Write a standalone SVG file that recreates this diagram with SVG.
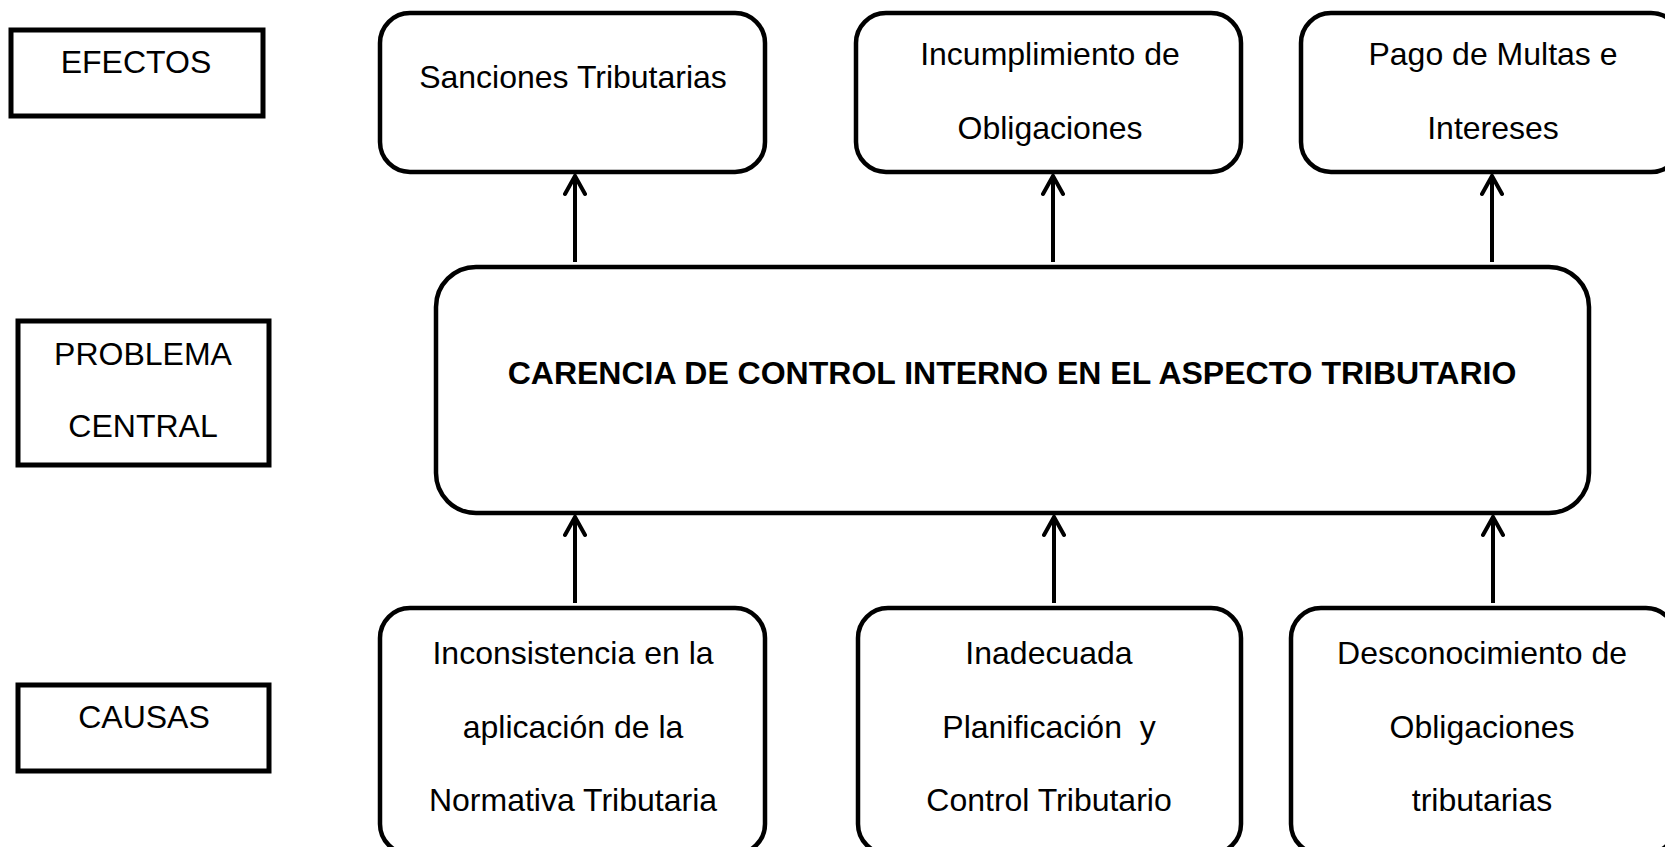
<svg xmlns="http://www.w3.org/2000/svg" width="1665" height="847" viewBox="0 0 1665 847">
<style>
.lbl{fill:#fff;stroke:#000;stroke-width:5}
.node{fill:#fff;stroke:#000;stroke-width:4.5}
text{font-family:"Liberation Sans",Arial,sans-serif;font-size:32px;fill:#000;text-anchor:middle}
.b{font-weight:bold}
.conn line{stroke:#000;stroke-width:4}
</style>
<defs>
<marker id="arr" viewBox="0 0 24 24" refX="21" refY="12" markerWidth="24" markerHeight="24" markerUnits="userSpaceOnUse" orient="auto">
<path d="M3,2 L21,12 L3,22" fill="none" stroke="#000" stroke-width="4" stroke-linecap="round" stroke-linejoin="miter"/>
</marker>
</defs>
<rect width="1665" height="847" fill="#fff"/>
<g id="efectos"><rect class="lbl" x="11" y="30" width="252" height="86"/><text x="136" y="73">EFECTOS</text></g>
<g id="problema-label"><rect class="lbl" x="18" y="321" width="251" height="144"/><text x="143" y="365">PROBLEMA</text><text x="143" y="437">CENTRAL</text></g>
<g id="causas"><rect class="lbl" x="18" y="685" width="251" height="86"/><text x="144" y="728">CAUSAS</text></g>
<g id="e1"><rect class="node" x="380" y="13" width="385" height="159" rx="30" ry="30"/><text x="573" y="88">Sanciones Tributarias</text></g>
<g id="e2"><rect class="node" x="856" y="13" width="385" height="159" rx="30" ry="30"/><text x="1050" y="65">Incumplimiento de</text><text x="1050" y="139">Obligaciones</text></g>
<g id="e3"><rect class="node" x="1301" y="13" width="380" height="159" rx="30" ry="30"/><text x="1493" y="65">Pago de Multas e</text><text x="1493" y="139">Intereses</text></g>
<g id="central"><rect class="node" x="436" y="267" width="1153" height="246" rx="40" ry="40"/><text class="b" x="1012" y="384">CARENCIA DE CONTROL INTERNO EN EL ASPECTO TRIBUTARIO</text></g>
<g id="c1"><rect class="node" x="380" y="608" width="385" height="246" rx="30" ry="30"/><text x="573" y="664">Inconsistencia en la</text><text x="573" y="738">aplicación de la</text><text x="573" y="811">Normativa Tributaria</text></g>
<g id="c2"><rect class="node" x="858" y="608" width="383" height="246" rx="30" ry="30"/><text x="1049" y="664">Inadecuada</text><text x="1049" y="738" xml:space="preserve">Planificación  y</text><text x="1049" y="811">Control Tributario</text></g>
<g id="c3"><rect class="node" x="1291" y="608" width="385" height="246" rx="30" ry="30"/><text x="1482" y="664">Desconocimiento de</text><text x="1482" y="738">Obligaciones</text><text x="1482" y="811">tributarias</text></g>
<g class="conn" id="connectors">
<line x1="575" y1="262" x2="575" y2="176" marker-end="url(#arr)"/>
<line x1="1053" y1="262" x2="1053" y2="176" marker-end="url(#arr)"/>
<line x1="1492" y1="262" x2="1492" y2="176" marker-end="url(#arr)"/>
<line x1="575" y1="603" x2="575" y2="517" marker-end="url(#arr)"/>
<line x1="1054" y1="603" x2="1054" y2="517" marker-end="url(#arr)"/>
<line x1="1493" y1="603" x2="1493" y2="517" marker-end="url(#arr)"/>
</g>
</svg>
